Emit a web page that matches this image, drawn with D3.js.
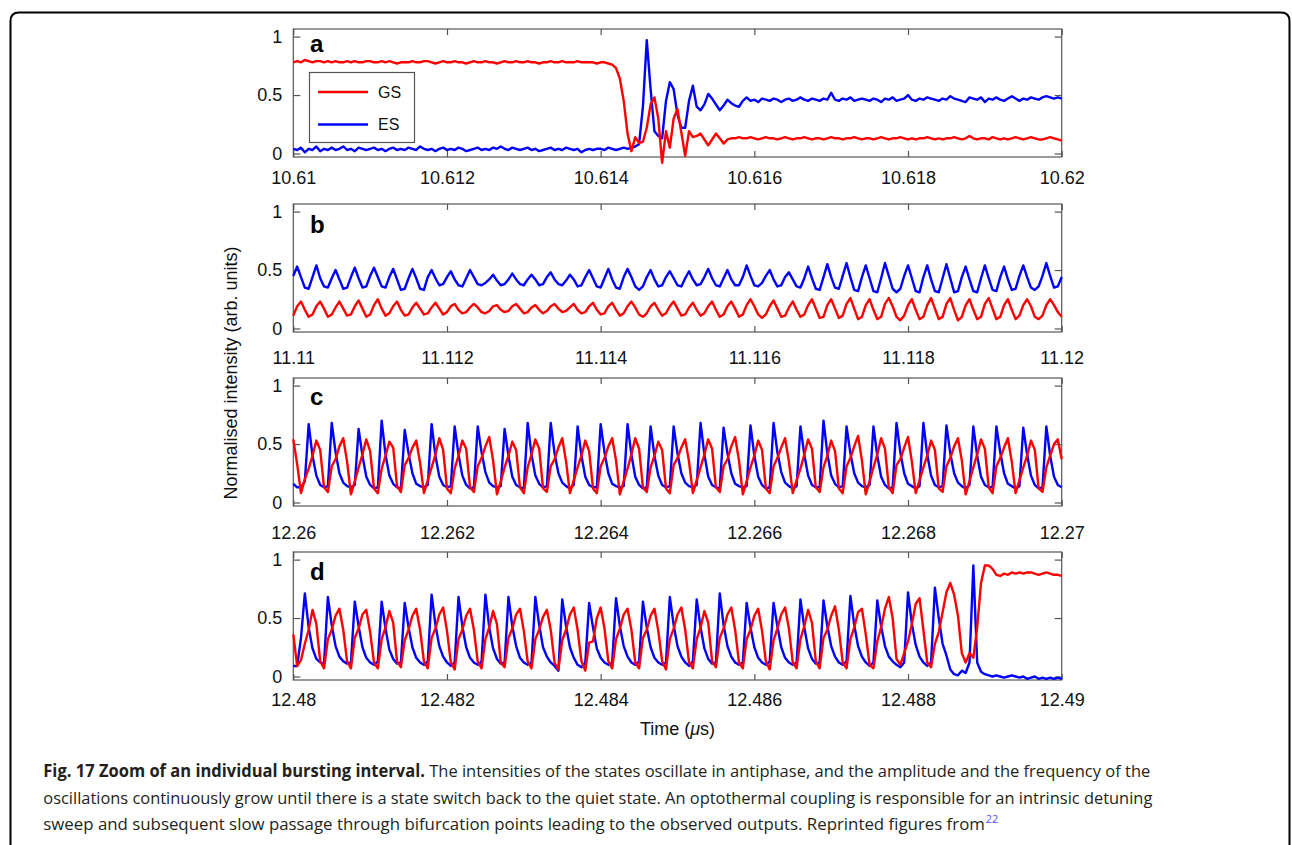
<!DOCTYPE html>
<html>
<head>
<meta charset="utf-8">
<script src="https://d3js.org/d3.v7.min.js"></script>
<style>
  body { margin: 0; background: #fff; }
  svg { display: block; font-family: "Liberation Sans", Arial, Helvetica, sans-serif; }
</style>
</head>
<body>
<svg id="fig" width="1292" height="845"></svg>
<script>
const panelLetters = ["a", "b", "c", "d"]
const panelStarts = [10.61, 11.11, 12.26, 12.48]
const panelSpan = 0.01
const xTickLabels = [
  ["10.61", "10.612", "10.614", "10.616", "10.618", "10.62"],
  ["11.11", "11.112", "11.114", "11.116", "11.118", "11.12"],
  ["12.26", "12.262", "12.264", "12.266", "12.268", "12.27"],
  ["12.48", "12.482", "12.484", "12.486", "12.488", "12.49"]
]
const yTicks = [0, 0.5, 1]
const yTickLabels = ["0", "0.5", "1"]
const seriesNames = ["GS", "ES"]

const gsA = [0.78,0.79,0.78,0.80,0.79,0.78,0.79,0.79,0.78,0.79,
  0.78,0.79,0.78,0.78,0.79,0.78,0.79,0.78,0.78,0.79,
  0.79,0.78,0.78,0.79,0.78,0.79,0.78,0.77,0.78,0.78,
  0.78,0.79,0.78,0.78,0.79,0.79,0.78,0.77,0.78,0.79,
  0.78,0.78,0.79,0.78,0.78,0.77,0.78,0.79,0.78,0.78,
  0.79,0.78,0.78,0.77,0.78,0.79,0.78,0.78,0.79,0.78,
  0.78,0.79,0.78,0.78,0.77,0.78,0.78,0.79,0.78,0.78,
  0.79,0.78,0.78,0.78,0.79,0.78,0.78,0.78,0.78,0.77,
  0.78,0.78,0.77,0.76,0.73,0.64,0.45,0.17,0.02,0.14,
  0.09,0.10,0.22,0.42,0.48,0.30,-0.08,0.19,0.05,0.30,
  0.38,0.18,-0.02,0.19,0.14,0.15,0.17,0.12,0.07,0.12,
  0.17,0.13,0.085,0.12,0.13,
  0.13,0.14,0.13,0.13,0.14,0.13,0.12,0.13,0.14,0.13,
  0.13,0.12,0.13,0.14,0.13,0.12,0.13,0.13,0.14,0.13,
  0.12,0.13,0.13,0.12,0.13,0.14,0.13,0.13,0.12,0.13,
  0.13,0.14,0.13,0.12,0.13,0.13,0.12,0.13,0.14,0.13,
  0.12,0.13,0.13,0.14,0.13,0.12,0.13,0.12,0.13,0.13,
  0.14,0.13,0.12,0.13,0.12,0.13,0.13,0.14,0.13,0.12,
  0.13,0.15,0.13,0.12,0.13,0.13,0.12,0.14,0.13,0.12,
  0.13,0.12,0.13,0.14,0.13,0.12,0.13,0.14,0.13,0.12,
  0.12,0.13,0.14,0.13,0.12,0.11]

const esA = [0.04,0.03,0.05,0.01,0.04,0.03,0.06,0.02,0.04,0.03,
  0.05,0.03,0.04,0.06,0.03,0.04,0.02,0.05,0.04,0.03,
  0.04,0.05,0.03,0.04,0.02,0.04,0.05,0.03,0.04,0.03,
  0.05,0.04,0.03,0.06,0.04,0.03,0.04,0.02,0.04,0.05,
  0.03,0.04,0.03,0.05,0.04,0.02,0.03,0.04,0.05,0.03,
  0.04,0.03,0.05,0.04,0.06,0.04,0.03,0.05,0.04,0.03,
  0.04,0.05,0.03,0.04,0.02,0.03,0.04,0.05,0.03,0.04,
  0.03,0.05,0.04,0.03,0.04,0.01,0.03,0.04,0.03,0.04,
  0.04,0.03,0.05,0.04,0.03,0.04,0.05,0.04,0.05,0.06,
  0.08,0.40,0.97,0.55,0.19,0.15,0.13,0.45,0.61,0.55,
  0.33,0.22,0.22,0.45,0.58,0.40,0.37,0.42,0.51,0.47,
  0.42,0.37,0.41,0.46,0.43,0.41,0.40,0.45,0.48,
  0.45,0.46,0.44,0.47,0.46,0.45,0.47,0.46,0.44,0.46,
  0.47,0.45,0.46,0.48,0.46,0.45,0.47,0.46,0.45,0.47,
  0.46,0.52,0.46,0.45,0.47,0.46,0.48,0.45,0.46,0.47,
  0.46,0.45,0.47,0.46,0.44,0.47,0.46,0.48,0.45,0.46,
  0.47,0.50,0.46,0.45,0.47,0.46,0.48,0.47,0.46,0.45,
  0.47,0.46,0.49,0.47,0.46,0.45,0.44,0.48,0.47,0.46,
  0.48,0.44,0.47,0.46,0.48,0.46,0.45,0.47,0.49,0.47,
  0.45,0.47,0.46,0.48,0.47,0.46,0.48,0.49,0.48,0.47,
  0.48,0.47]

const gsB = [0.11,
  0.19,0.23,0.16,0.10,0.12, 0.19,0.23,0.17,0.10,0.12, 0.18,0.23,0.17,0.11,0.12,
  0.19,0.24,0.17,0.10,0.12, 0.20,0.25,0.17,0.11,0.13, 0.19,0.23,0.16,0.11,0.12,
  0.18,0.22,0.17,0.12,0.13, 0.18,0.22,0.17,0.12,0.14, 0.19,0.21,0.16,0.13,0.14,
  0.18,0.21,0.18,0.14,0.13,0.15, 0.19,0.20,0.16,0.14,0.15, 0.19,0.21,0.17,0.13,0.14,
  0.18,0.20,0.16,0.13,0.15, 0.19,0.21,0.17,0.14,0.15, 0.18,0.21,0.16,0.13,0.14,
  0.19,0.22,0.16,0.12,0.13, 0.19,0.22,0.16,0.11,0.13, 0.19,0.23,0.18,0.12,0.10,0.13,
  0.19,0.22,0.16,0.11,0.13, 0.19,0.23,0.17,0.11,0.12, 0.18,0.22,0.16,0.11,0.13,
  0.19,0.23,0.16,0.10,0.12, 0.19,0.23,0.17,0.10,0.12, 0.20,0.25,0.19,0.12,0.09,0.12,
  0.19,0.24,0.17,0.10,0.11, 0.18,0.23,0.16,0.10,0.12, 0.20,0.25,0.17,0.09,0.10,
  0.20,0.25,0.17,0.09,0.11, 0.21,0.26,0.17,0.08,0.10, 0.20,0.25,0.16,0.08,0.10,
  0.21,0.26,0.19,0.10,0.07,0.11, 0.20,0.25,0.16,0.08,0.10, 0.20,0.26,0.17,0.08,0.10,
  0.21,0.26,0.16,0.07,0.10, 0.20,0.25,0.16,0.08,0.10, 0.21,0.26,0.17,0.08,0.10,
  0.20,0.25,0.16,0.08,0.11, 0.20,0.25,0.19,0.10,0.08,0.11, 0.20,0.25,0.20,0.14,0.10]

const esB = [0.45,
  0.53,0.44,0.35,0.34,0.44, 0.54,0.43,0.36,0.35,0.43, 0.50,0.42,0.34,0.35,0.44,
  0.52,0.43,0.35,0.36,0.45, 0.52,0.44,0.36,0.35,0.44, 0.51,0.42,0.33,0.34,0.43,
  0.51,0.43,0.34,0.33,0.44, 0.50,0.43,0.37,0.38,0.44, 0.49,0.42,0.37,0.36,0.43,
  0.50,0.44,0.38,0.37,0.39,0.42, 0.46,0.41,0.37,0.38,0.42, 0.47,0.42,0.38,0.37,0.42,
  0.46,0.42,0.37,0.38,0.44, 0.48,0.42,0.38,0.37,0.41, 0.46,0.42,0.36,0.37,0.44,
  0.50,0.43,0.36,0.35,0.43, 0.51,0.42,0.35,0.34,0.44, 0.51,0.44,0.36,0.33,0.36,0.44,
  0.50,0.42,0.36,0.37,0.44, 0.49,0.43,0.37,0.36,0.43, 0.49,0.42,0.37,0.38,0.44,
  0.51,0.43,0.37,0.36,0.43, 0.50,0.42,0.37,0.37,0.44, 0.54,0.45,0.37,0.36,0.39,0.45,
  0.50,0.42,0.36,0.37,0.44, 0.48,0.42,0.36,0.35,0.43, 0.53,0.43,0.34,0.33,0.44,
  0.55,0.44,0.35,0.34,0.45, 0.56,0.44,0.33,0.32,0.44, 0.54,0.43,0.32,0.31,0.43,
  0.56,0.45,0.34,0.31,0.34,0.45, 0.54,0.43,0.32,0.31,0.44, 0.54,0.42,0.32,0.31,0.43,
  0.55,0.43,0.31,0.32,0.44, 0.53,0.42,0.32,0.31,0.43, 0.54,0.43,0.33,0.32,0.44,
  0.53,0.42,0.33,0.34,0.45, 0.54,0.44,0.35,0.33,0.36,0.45, 0.56,0.45,0.35,0.36,0.44]

const gsC = [0.54,0.33,0.08,0.20,
  0.29,0.40,0.53,0.45,0.13,0.09, 0.31,0.37,0.48,0.55,0.35,0.07,0.18,
  0.30,0.41,0.54,0.44,0.12,0.08, 0.29,0.40,0.52,0.47,0.14,0.09,
  0.32,0.38,0.47,0.53,0.34,0.08,0.19, 0.30,0.41,0.55,0.45,0.12,0.08,
  0.29,0.40,0.53,0.46,0.13,0.09, 0.31,0.38,0.48,0.56,0.36,0.07,0.18,
  0.30,0.40,0.52,0.45,0.13,0.08, 0.30,0.41,0.54,0.46,0.12,0.09,
  0.31,0.37,0.47,0.55,0.35,0.08,0.19, 0.30,0.40,0.53,0.44,0.12,0.08,
  0.31,0.38,0.48,0.55,0.36,0.07,0.18, 0.29,0.41,0.55,0.46,0.13,0.09,
  0.30,0.40,0.52,0.45,0.12,0.08, 0.32,0.38,0.47,0.54,0.35,0.08,0.19,
  0.30,0.41,0.54,0.46,0.13,0.09, 0.31,0.37,0.48,0.56,0.36,0.07,0.18,
  0.30,0.40,0.53,0.45,0.12,0.08, 0.31,0.38,0.47,0.55,0.35,0.08,0.19,
  0.29,0.41,0.54,0.46,0.13,0.09, 0.30,0.40,0.53,0.44,0.12,0.08,
  0.31,0.38,0.48,0.57,0.36,0.07,0.18, 0.30,0.41,0.55,0.46,0.13,0.08,
  0.32,0.37,0.47,0.56,0.35,0.08,0.19, 0.30,0.40,0.53,0.45,0.12,0.09,
  0.31,0.38,0.48,0.55,0.36,0.07,0.18, 0.30,0.41,0.54,0.46,0.13,0.08,
  0.31,0.38,0.47,0.55,0.35,0.08,0.19, 0.30,0.40,0.53,0.45,0.12,0.09,
  0.30,0.40,0.50,0.54,0.37]

const esC = [0.16,0.13,0.13,0.18,
  0.67,0.40,0.23,0.15,0.13,0.14, 0.68,0.43,0.25,0.17,0.14,0.13,0.15,
  0.63,0.40,0.22,0.15,0.12,0.13, 0.70,0.41,0.23,0.16,0.13,0.12,
  0.62,0.42,0.25,0.16,0.14,0.13,0.15, 0.67,0.40,0.22,0.15,0.13,0.14,
  0.65,0.41,0.23,0.15,0.12,0.13, 0.65,0.43,0.26,0.17,0.14,0.13,0.14,
  0.63,0.40,0.22,0.15,0.13,0.12, 0.68,0.41,0.23,0.16,0.13,0.14,
  0.68,0.42,0.25,0.17,0.14,0.12,0.15, 0.65,0.40,0.22,0.15,0.13,0.13,
  0.67,0.43,0.25,0.16,0.14,0.13,0.14, 0.67,0.41,0.22,0.15,0.12,0.13,
  0.65,0.40,0.23,0.15,0.13,0.14, 0.65,0.42,0.25,0.17,0.14,0.13,0.15,
  0.68,0.41,0.22,0.15,0.13,0.12, 0.64,0.42,0.25,0.16,0.14,0.13,0.14,
  0.66,0.40,0.22,0.15,0.12,0.13, 0.68,0.43,0.26,0.17,0.14,0.12,0.14,
  0.65,0.41,0.23,0.15,0.13,0.13, 0.70,0.42,0.23,0.16,0.13,0.14,
  0.65,0.42,0.25,0.17,0.14,0.13,0.15, 0.65,0.40,0.22,0.15,0.12,0.13,
  0.68,0.43,0.25,0.16,0.14,0.12,0.14, 0.68,0.41,0.23,0.15,0.13,0.14,
  0.66,0.42,0.25,0.17,0.14,0.12,0.15, 0.65,0.40,0.22,0.15,0.13,0.13,
  0.65,0.43,0.25,0.16,0.14,0.12,0.14, 0.64,0.41,0.23,0.15,0.12,0.13,
  0.65,0.40,0.22,0.15,0.13]

const gsD = [0.36,0.09,0.14,
  0.28,0.40,0.57,0.45,0.13,0.07, 0.32,0.40,0.52,0.58,0.40,0.13,0.07,
  0.33,0.41,0.53,0.57,0.38,0.12,0.07, 0.32,0.42,0.56,0.46,0.13,0.08,
  0.31,0.40,0.52,0.58,0.40,0.13,0.07, 0.33,0.41,0.53,0.59,0.39,0.12,0.06,
  0.32,0.40,0.52,0.58,0.40,0.13,0.07, 0.32,0.42,0.56,0.45,0.12,0.08,
  0.33,0.41,0.53,0.58,0.39,0.13,0.07, 0.32,0.40,0.51,0.57,0.40,0.12,0.06,
  0.31,0.40,0.53,0.59,0.40,0.13,0.05, 0.29,0.30,0.50,0.59,0.41,0.13,0.07,
  0.32,0.41,0.53,0.58,0.40,0.12,0.07, 0.33,0.40,0.52,0.58,0.39,0.13,0.06,
  0.32,0.41,0.53,0.59,0.40,0.12,0.07, 0.32,0.42,0.56,0.46,0.13,0.08,
  0.33,0.41,0.53,0.59,0.40,0.12,0.07, 0.32,0.40,0.52,0.58,0.39,0.13,0.06,
  0.31,0.41,0.53,0.59,0.41,0.12,0.07, 0.32,0.43,0.57,0.46,0.13,0.07,
  0.33,0.40,0.52,0.60,0.40,0.12,0.07, 0.32,0.42,0.55,0.58,0.36,0.10,0.07,
  0.30,0.42,0.58,0.68,0.50,0.15,0.10,0.20, 0.30,0.45,0.62,0.67,0.40,0.12,0.08,
  0.28,0.38,0.55,0.72,0.80,0.70,0.52,0.20,0.12,0.20,
  0.16,0.42,0.80,0.95,0.95,0.92,0.87,0.86,0.88,0.87,0.89,0.88,
  0.89,0.88,0.89,0.89,0.88,0.87,0.88,0.89,0.88,0.87,0.87,0.86]

const esD = [0.09,0.09,0.33,
  0.71,0.42,0.24,0.15,0.12,0.11, 0.68,0.44,0.26,0.17,0.13,0.11,0.12,
  0.64,0.43,0.25,0.16,0.12,0.10,0.13, 0.64,0.41,0.23,0.15,0.11,0.12,
  0.63,0.42,0.25,0.16,0.12,0.10,0.13, 0.70,0.44,0.26,0.17,0.12,0.09,0.12,
  0.68,0.43,0.25,0.16,0.12,0.10,0.13, 0.70,0.42,0.24,0.15,0.11,0.12,
  0.68,0.43,0.26,0.16,0.12,0.10,0.12, 0.68,0.44,0.25,0.17,0.12,0.09,0.05,
  0.66,0.43,0.25,0.16,0.10,0.08,0.12, 0.63,0.42,0.24,0.16,0.12,0.10,0.12,
  0.67,0.43,0.26,0.17,0.12,0.10,0.13, 0.64,0.42,0.25,0.16,0.12,0.10,0.12,
  0.68,0.44,0.26,0.17,0.12,0.09,0.13, 0.66,0.42,0.24,0.15,0.11,0.12,
  0.71,0.44,0.26,0.17,0.12,0.10,0.12, 0.63,0.42,0.25,0.16,0.12,0.10,0.13,
  0.63,0.43,0.25,0.16,0.12,0.10,0.12, 0.66,0.42,0.24,0.15,0.11,0.12,
  0.65,0.43,0.26,0.17,0.12,0.10,0.13, 0.69,0.44,0.26,0.17,0.12,0.09,0.12,
  0.65,0.43,0.26,0.17,0.13,0.10,0.08,0.12, 0.72,0.45,0.27,0.17,0.12,0.09,0.12,
  0.76,0.50,0.28,0.18,0.06,0.02,0.01,0.05,0.03,0.12,
  0.95,0.12,0.04,0.02,0.01,0.00,0.01,0.00,-0.01,0.00,0.01,0.00,
  -0.01,0.00,-0.02,-0.01,0.00,-0.02,-0.01,-0.02,-0.01,-0.02,-0.01,-0.02]

const gsSeries = [gsA, gsB, gsC, gsD]
const esSeries = [esA, esB, esC, esD]

// ---- layout ----
const colors = { GS: "#ff0000", ES: "#0000ff" }
const left = 293.3, right = 1061.7, plotH = 128
const layout = [
  { top: 29,  pad: 14, letterY: 52 },
  { top: 204, pad: 19, letterY: 233 },
  { top: 378, pad: 20, letterY: 405 },
  { top: 552, pad: 13, letterY: 580 }
]

const svg = d3.select("#fig")

// outer frame (rounded top corners, open at the bottom)
svg.append("path")
  .attr("d", "M10.5,850 V21 Q10.5,12.5 19,12.5 H1281 Q1289.5,12.5 1289.5,21 V850")
  .attr("fill", "none")
  .attr("stroke", "#000")
  .attr("stroke-width", 2)

panelLetters.forEach((letter, p) => {
  let lay = layout[p]
  let t0 = panelStarts[p]
  let x = d3.scaleLinear().domain([t0, t0 + panelSpan]).range([left, right])
  let y = d3.scaleLinear().domain([-0.03, 1.065]).range([lay.top + plotH, lay.top])
  let ticks = d3.range(6).map(k => t0 + k * panelSpan / 5)
  let labels = xTickLabels[p]

  let g = svg.append("g").attr("class", "panel-" + letter)

  g.append("rect")
    .attr("x", left).attr("y", lay.top)
    .attr("width", right - left).attr("height", plotH)
    .attr("fill", "none").attr("stroke", "#555").attr("stroke-width", 1.2)

  let bottom = g.append("g")
    .attr("transform", `translate(0,${lay.top + plotH})`)
    .call(d3.axisBottom(x).tickValues(ticks).tickFormat((d, i) => labels[i])
      .tickSizeInner(-6).tickSizeOuter(0).tickPadding(lay.pad))
  let top = g.append("g")
    .attr("transform", `translate(0,${lay.top})`)
    .call(d3.axisTop(x).tickValues(ticks).tickFormat("").tickSizeInner(-6).tickSizeOuter(0))
  let yl = g.append("g")
    .attr("transform", `translate(${left},0)`)
    .call(d3.axisLeft(y).tickValues(yTicks).tickFormat((d, i) => yTickLabels[i])
      .tickSizeInner(-7).tickSizeOuter(0).tickPadding(11))
  let yr = g.append("g")
    .attr("transform", `translate(${right},0)`)
    .call(d3.axisRight(y).tickValues(yTicks).tickFormat("").tickSizeInner(-7).tickSizeOuter(0))

  for (let ax of [bottom, top, yl, yr]) {
    ax.attr("font-size", null).attr("font-family", null)
    ax.select(".domain").remove()
    ax.selectAll(".tick line").attr("stroke", "#555").attr("stroke-width", 1.2)
    ax.selectAll(".tick text").attr("fill", "#111").style("font-size", "18px")
  }

  let line = d3.line()
    .x((d, i, arr) => x(t0 + i * panelSpan / (arr.length - 1)))
    .y(d => y(d))

  let traces = [["ES", esSeries[p]], ["GS", gsSeries[p]]]
  traces.forEach(([name, vals]) => {
    g.append("path")
      .datum(vals)
      .attr("d", line)
      .attr("fill", "none")
      .attr("stroke", colors[name])
      .attr("stroke-width", 2.4)
      .attr("stroke-linejoin", "round")
  })

  g.append("text")
    .attr("x", 310).attr("y", lay.letterY)
    .attr("font-size", 24).attr("font-weight", "bold").attr("fill", "#000")
    .text(letter)

  if (p === 0) {
    let lg = g.append("g")
    lg.append("rect")
      .attr("x", 309.5).attr("y", 72.5).attr("width", 105).attr("height", 70)
      .attr("fill", "#fff").attr("stroke", "#555").attr("stroke-width", 1.2)
    seriesNames.forEach((name, k) => {
      let ly = 92 + k * 32.5
      lg.append("line")
        .attr("x1", 318).attr("x2", 368).attr("y1", ly).attr("y2", ly)
        .attr("stroke", colors[name]).attr("stroke-width", 2.4)
      lg.append("text")
        .attr("x", 378).attr("y", ly + 5.5)
        .attr("font-size", 16).attr("fill", "#111")
        .text(name)
    })
  }
})

// axis titles
svg.append("text")
  .attr("transform", "translate(237,373) rotate(-90)")
  .attr("text-anchor", "middle")
  .attr("font-size", 18).attr("fill", "#111")
  .text("Normalised intensity (arb. units)")

let xt = svg.append("text")
  .attr("x", 677.5).attr("y", 735)
  .attr("text-anchor", "middle")
  .attr("font-size", 18).attr("fill", "#111")
xt.append("tspan").text("Time (")
xt.append("tspan").attr("font-style", "italic").text("\u03bc")
xt.append("tspan").text("s)")

// caption
const captionBold = "Fig. 17 Zoom of an individual bursting interval."
const captionLines = [
  " The intensities of the states oscillate in antiphase, and the amplitude and the frequency of the",
  "oscillations continuously grow until there is a state switch back to the quiet state. An optothermal coupling is responsible for an intrinsic detuning",
  "sweep and subsequent slow passage through bifurcation points leading to the observed outputs. Reprinted figures from"
]
const captionRef = "22"
const captionWidths = [1107, 1109, 955]
const cap = svg.append("g")
  .style("font-family", "'Open Sans', 'Noto Sans', sans-serif")
  .style("font-size", "17px").attr("fill", "#231f20")
captionLines.forEach((txt, k) => {
  let t = cap.append("text")
    .attr("x", 43.3).attr("y", 777.3 + k * 26.4)
    .attr("textLength", captionWidths[k])
    .attr("lengthAdjust", "spacingAndGlyphs")
  if (k === 0) t.append("tspan").attr("font-weight", "bold").text(captionBold)
  t.append("tspan").text(txt)
  if (k === 2) {
    // citation mark, raised after "from"
    t.append("tspan")
      .attr("dx", 1).attr("dy", -7)
      .style("font-size", "11px").attr("fill", "#4f4fff")
      .text(captionRef)
  }
})
</script>
</body>
</html>
